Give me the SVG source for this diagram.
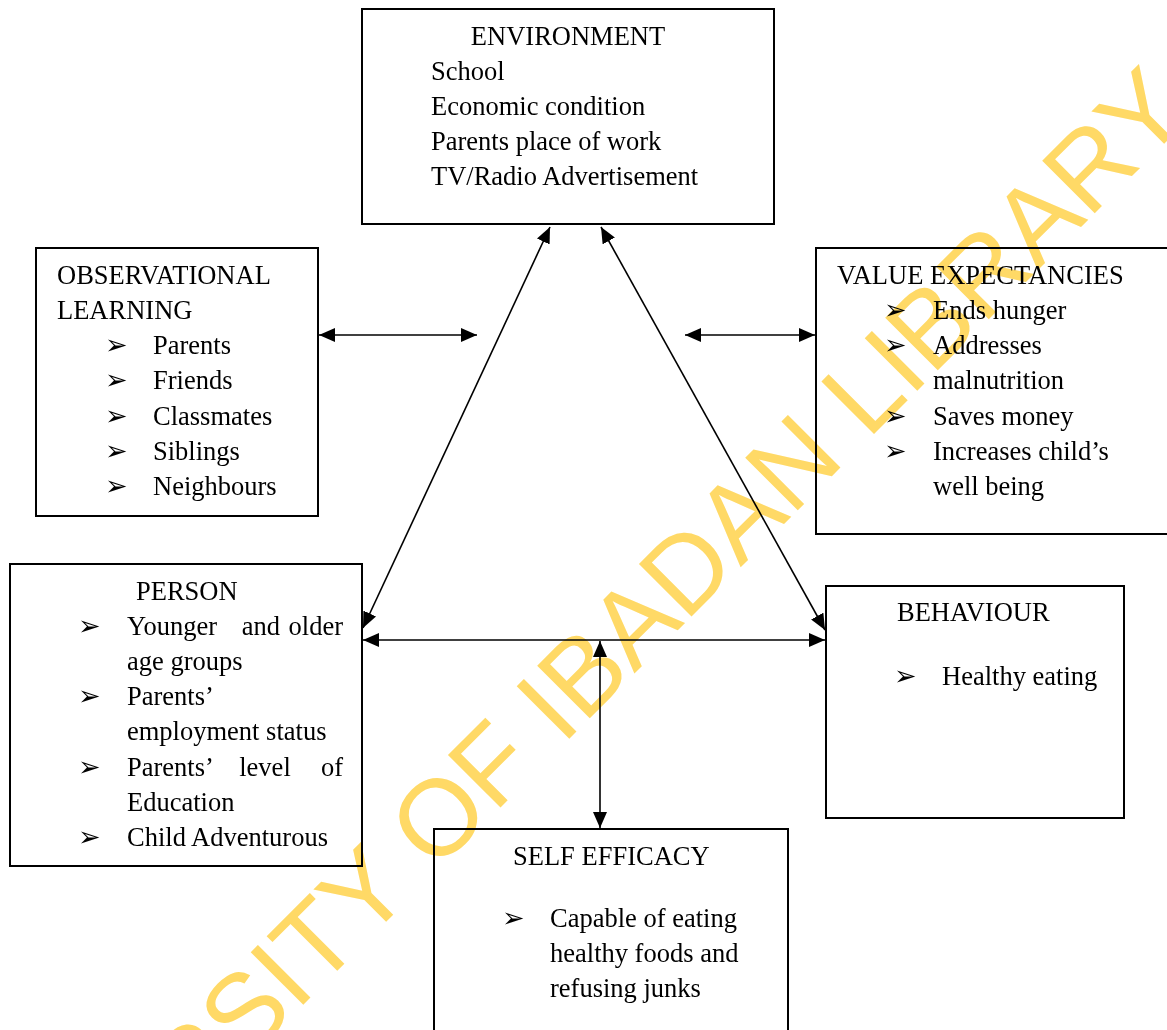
<svg xmlns="http://www.w3.org/2000/svg" width="1167" height="1030" viewBox="0 0 1167 1030">
<style>
.box{fill:#fff;stroke:#000;stroke-width:2}
.t{font-family:"Liberation Serif","Times New Roman",serif;font-size:26.5px;fill:#000}
.b{font-family:"DejaVu Sans",sans-serif;font-size:27px;fill:#000}
.c{stroke:#000;stroke-width:1.6;fill:none;marker-start:url(#ah);marker-end:url(#ah)}
.wm{font-family:"Liberation Sans",Arial,sans-serif;font-size:108px;fill:#FFD966;mix-blend-mode:multiply}
</style>
<defs>
<marker id="ah" viewBox="0 0 16 14" refX="16" refY="7" markerWidth="16" markerHeight="14" markerUnits="userSpaceOnUse" orient="auto-start-reverse">
<path d="M0,0 L16,7 L0,14 Z" fill="#000"/>
</marker>
</defs>
<rect width="1167" height="1030" fill="#fff"/>

<g id="environment">
<rect class="box" x="362" y="9" width="412" height="215"/>
<text class="t" x="568" y="45" text-anchor="middle">ENVIRONMENT</text>
<text class="t" x="431" y="80">School</text>
<text class="t" x="431" y="115">Economic condition</text>
<text class="t" x="431" y="150">Parents place of work</text>
<text class="t" x="431" y="185">TV/Radio Advertisement</text>
</g>

<g id="observational">
<rect class="box" x="36" y="248" width="282" height="268"/>
<text class="t" x="57" y="284">OBSERVATIONAL</text>
<text class="t" x="57" y="319">LEARNING</text>
<text class="b" x="105" y="354">➢</text><text class="t" x="153" y="354">Parents</text>
<text class="b" x="105" y="389">➢</text><text class="t" x="153" y="389">Friends</text>
<text class="b" x="105" y="425">➢</text><text class="t" x="153" y="425">Classmates</text>
<text class="b" x="105" y="460">➢</text><text class="t" x="153" y="460">Siblings</text>
<text class="b" x="105" y="495">➢</text><text class="t" x="153" y="495">Neighbours</text>
</g>

<g id="value">
<rect class="box" x="816" y="248" width="360" height="286"/>
<text class="t" x="837" y="284">VALUE EXPECTANCIES</text>
<text class="b" x="884" y="319">➢</text><text class="t" x="933" y="319">Ends hunger</text>
<text class="b" x="884" y="354">➢</text><text class="t" x="933" y="354">Addresses</text>
<text class="t" x="933" y="389">malnutrition</text>
<text class="b" x="884" y="425">➢</text><text class="t" x="933" y="425">Saves money</text>
<text class="b" x="884" y="460">➢</text><text class="t" x="933" y="460">Increases child’s</text>
<text class="t" x="933" y="495">well being</text>
</g>

<g id="person">
<rect class="box" x="10" y="564" width="352" height="302"/>
<text class="t" x="136" y="600">PERSON</text>
<text class="b" x="78" y="635">➢</text>
<text class="t" x="127" y="635">Younger</text>
<text class="t" x="261" y="635" text-anchor="middle">and</text>
<text class="t" x="343" y="635" text-anchor="end">older</text>
<text class="t" x="127" y="670">age groups</text>
<text class="b" x="78" y="705">➢</text><text class="t" x="127" y="705">Parents’</text>
<text class="t" x="127" y="740">employment status</text>
<text class="b" x="78" y="776">➢</text>
<text class="t" x="127" y="776">Parents’</text>
<text class="t" x="265" y="776" text-anchor="middle">level</text>
<text class="t" x="343" y="776" text-anchor="end">of</text>
<text class="t" x="127" y="811">Education</text>
<text class="b" x="78" y="846">➢</text><text class="t" x="127" y="846">Child Adventurous</text>
</g>

<g id="behaviour">
<rect class="box" x="826" y="586" width="298" height="232"/>
<text class="t" x="897" y="621">BEHAVIOUR</text>
<text class="b" x="894" y="685">➢</text><text class="t" x="942" y="685">Healthy eating</text>
</g>

<g id="selfefficacy">
<rect class="box" x="434" y="829" width="354" height="215"/>
<text class="t" x="513" y="865">SELF EFFICACY</text>
<text class="b" x="502" y="927">➢</text><text class="t" x="550" y="927">Capable of eating</text>
<text class="t" x="550" y="962">healthy foods and</text>
<text class="t" x="550" y="997">refusing junks</text>
</g>

<g id="connectors">
<line class="c" x1="319" y1="335" x2="477" y2="335"/>
<line class="c" x1="685" y1="335" x2="815" y2="335"/>
<line class="c" x1="550" y1="227" x2="363" y2="628"/>
<line class="c" x1="601" y1="227" x2="825" y2="630"/>
<line class="c" x1="363" y1="640" x2="825" y2="640"/>
<line class="c" x1="600" y1="641" x2="600" y2="828"/>
</g>

<text class="wm" x="575" y="733" text-anchor="middle" transform="rotate(-45 575 733)">UNIVERSITY OF IBADAN LIBRARY</text>
</svg>
